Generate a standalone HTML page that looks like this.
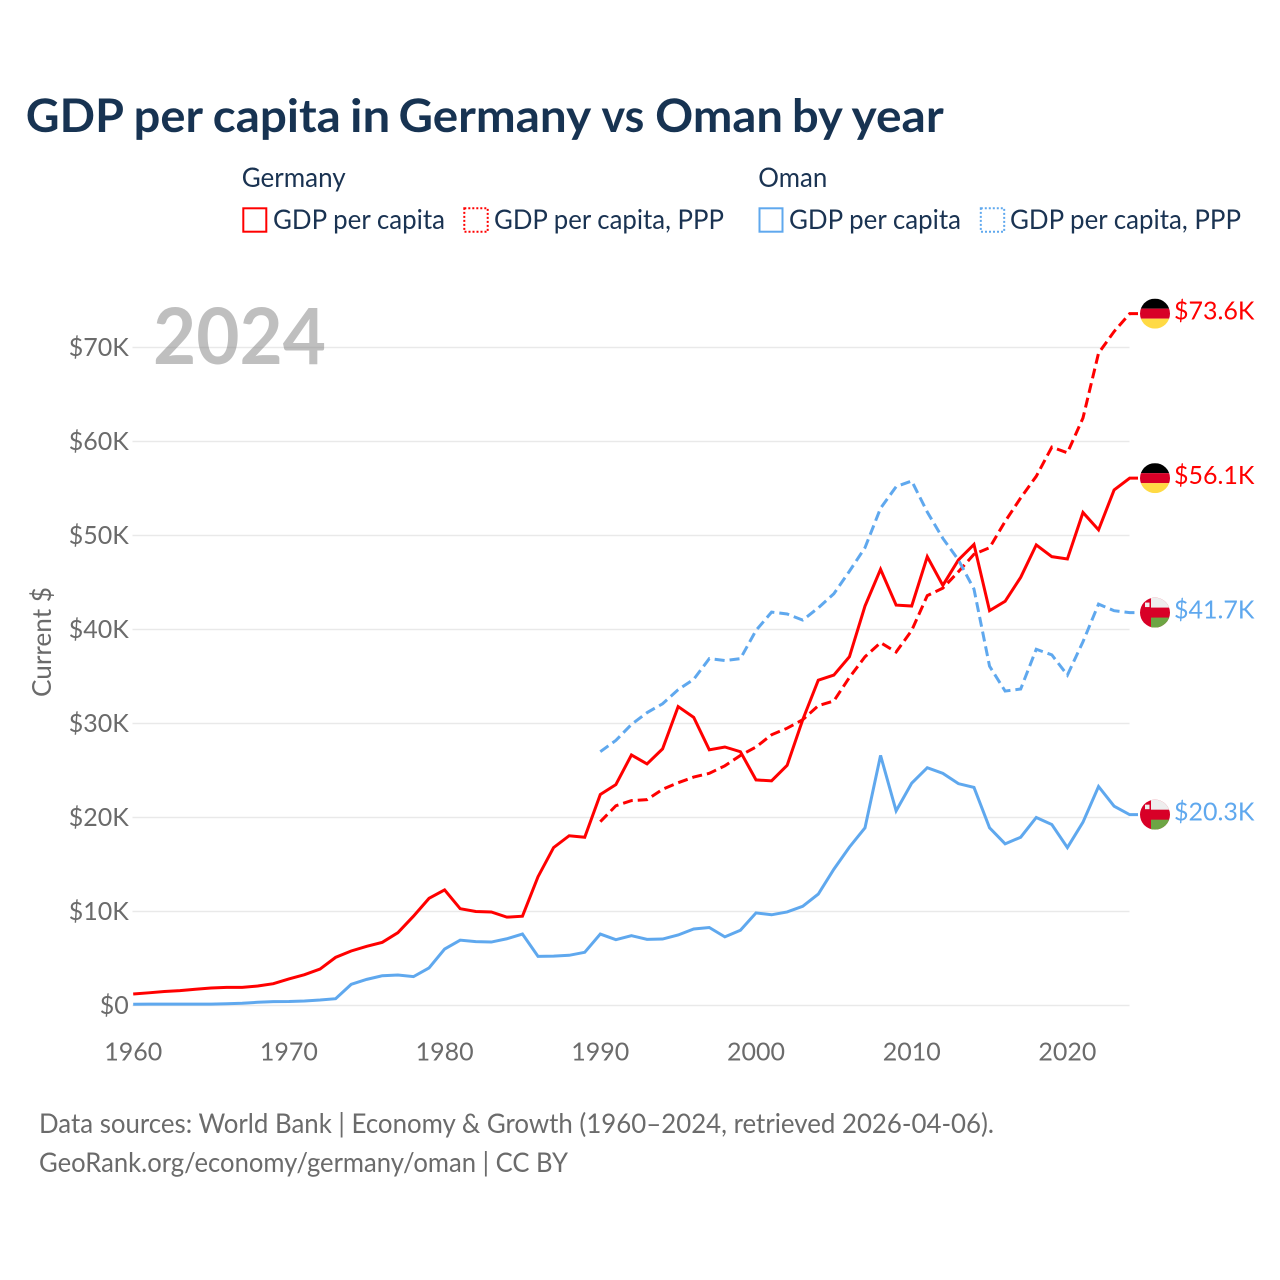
<!DOCTYPE html>
<html lang="en">
<head>
<meta charset="utf-8">
<title>GDP per capita in Germany vs Oman by year</title>
<style>
html,body{margin:0;padding:0;background:#fff;}
svg{display:block;font-family:"Lato","Carlito","Liberation Sans",sans-serif;}
</style>
</head>
<body>
<svg id="chart" xmlns="http://www.w3.org/2000/svg" width="1280" height="1280" viewBox="0 0 1280 1280">
  <rect x="0" y="0" width="1280" height="1280" fill="#ffffff"/>
  <text y="132" font-size="46" font-weight="700" fill="#173352" lengthAdjust="spacingAndGlyphs"><tspan x="25.8" textLength="96.9" lengthAdjust="spacingAndGlyphs">GDP</tspan> <tspan x="133.7" textLength="68.3" lengthAdjust="spacingAndGlyphs">per</tspan> <tspan x="212.8" textLength="128" lengthAdjust="spacingAndGlyphs">capita</tspan> <tspan x="350" textLength="40.3" lengthAdjust="spacingAndGlyphs">in</tspan> <tspan x="398.5" textLength="191.5" lengthAdjust="spacingAndGlyphs">Germany</tspan> <tspan x="601.5" textLength="42.8" lengthAdjust="spacingAndGlyphs">vs</tspan> <tspan x="655.2" textLength="127.8" lengthAdjust="spacingAndGlyphs">Oman</tspan> <tspan x="792" textLength="49.7" lengthAdjust="spacingAndGlyphs">by</tspan> <tspan x="851.5" textLength="92.2" lengthAdjust="spacingAndGlyphs">year</tspan></text>

  <g font-size="27" fill="#1a3352">
    <text x="241.7" y="187" textLength="104" lengthAdjust="spacingAndGlyphs">Germany</text>
    <rect x="243.3" y="208.3" width="23" height="23.4" fill="none" stroke="#ff0000" stroke-width="2"/>
    <text x="273" y="229" textLength="172" lengthAdjust="spacingAndGlyphs">GDP per capita</text>
    <rect x="464.3" y="208.3" width="23.4" height="23.4" fill="none" stroke="#ff0000" stroke-width="2" stroke-dasharray="2 2"/>
    <text x="494" y="229" textLength="230" lengthAdjust="spacingAndGlyphs">GDP per capita, PPP</text>

    <text x="758.3" y="187" textLength="69" lengthAdjust="spacingAndGlyphs">Oman</text>
    <rect x="759.5" y="208.3" width="23" height="23.4" fill="none" stroke="#5fa8ee" stroke-width="2"/>
    <text x="789" y="229" textLength="172" lengthAdjust="spacingAndGlyphs">GDP per capita</text>
    <rect x="980.8" y="208.3" width="23.4" height="23.4" fill="none" stroke="#5fa8ee" stroke-width="2" stroke-dasharray="2 2"/>
    <text x="1010" y="229" textLength="231" lengthAdjust="spacingAndGlyphs">GDP per capita, PPP</text>
  </g>

  <g id="grid"></g>
  <text x="153" y="364" font-size="78" font-weight="700" fill="#808080" fill-opacity="0.5" textLength="173" lengthAdjust="spacingAndGlyphs">2024</text>
  <g id="yAxis"></g>
  <g id="xAxis"></g>
  <text transform="translate(51,642) rotate(-90)" text-anchor="middle" font-size="26" fill="#6b6b6b" textLength="110" lengthAdjust="spacingAndGlyphs">Current $</text>
  <g id="series"></g>
  <g id="endpoints"></g>

  <g font-size="27" fill="#6b6b6b">
    <text x="39" y="1133" textLength="955" lengthAdjust="spacingAndGlyphs">Data sources: World Bank | Economy &amp; Growth (1960–2024, retrieved 2026-04-06).</text>
    <text x="39" y="1172" textLength="529" lengthAdjust="spacingAndGlyphs">GeoRank.org/economy/germany/oman | CC BY</text>
  </g>
</svg>

<script>
const xTickYears = [1960, 1970, 1980, 1990, 2000, 2010, 2020];
const yTickValues = [0, 10, 20, 30, 40, 50, 60, 70];
const yTickLabels = ["$0", "$10K", "$20K", "$30K", "$40K", "$50K", "$60K", "$70K"];

const germanyGdpStartYear = 1960;
const germanyGdp = [1.22, 1.35, 1.49, 1.58, 1.73, 1.86, 1.93, 1.93, 2.07, 2.32,
  2.82, 3.28, 3.88, 5.12, 5.8, 6.3, 6.72, 7.75, 9.5, 11.4,
  12.3, 10.3, 10.0, 9.95, 9.4, 9.5, 13.7, 16.8, 18.06, 17.9,
  22.45, 23.5, 26.65, 25.7, 27.3, 31.8, 30.65, 27.2, 27.5, 27.0,
  24.0, 23.9, 25.55, 30.4, 34.6, 35.15, 37.1, 42.5, 46.4, 42.6,
  42.5, 47.75, 44.7, 47.4, 49.05, 42.0, 43.0, 45.55, 49.0, 47.75,
  47.5, 52.45, 50.6, 54.85, 56.1];

const germanyPppStartYear = 1990;
const germanyPpp = [19.55, 21.25, 21.8, 21.9, 23.0, 23.7, 24.3, 24.7, 25.5, 26.6,
  27.5, 28.8, 29.5, 30.4, 31.9, 32.4, 34.9, 37.1, 38.6, 37.6,
  39.9, 43.6, 44.4, 46.15, 48.0, 48.7, 51.5, 54.0, 56.3, 59.4,
  58.8, 62.5, 69.4, 71.7, 73.6];

const omanGdpStartYear = 1960;
const omanGdp = [0.13, 0.14, 0.15, 0.15, 0.15, 0.15, 0.18, 0.24, 0.34, 0.41,
  0.42, 0.48, 0.58, 0.72, 2.25, 2.78, 3.17, 3.24, 3.07, 4.0,
  6.0, 6.95, 6.8, 6.75, 7.1, 7.6, 5.23, 5.25, 5.34, 5.66,
  7.6, 7.0, 7.43, 7.04, 7.07, 7.5, 8.14, 8.3, 7.3, 8.0,
  9.85, 9.65, 9.95, 10.55, 11.85, 14.5, 16.85, 18.9, 26.6, 20.7,
  23.65, 25.3, 24.7, 23.6, 23.2, 18.9, 17.2, 17.9, 20.0, 19.25,
  16.8, 19.5, 23.3, 21.2, 20.3];

const omanPppStartYear = 1990;
const omanPpp = [27.0, 28.2, 29.9, 31.15, 32.1, 33.6, 34.7, 36.9, 36.7, 36.9,
  39.9, 41.85, 41.65, 41.0, 42.3, 43.8, 46.2, 48.7, 52.9, 55.2,
  55.8, 52.5, 49.7, 47.4, 44.3, 36.1, 33.45, 33.67, 37.9, 37.3,
  35.15, 38.7, 42.7, 42.0, 41.8];

const endLabels = ["$73.6K", "$56.1K", "$41.7K", "$20.3K"];

const SVG_NS = "http://www.w3.org/2000/svg";
const RED = "#ff0000";
const BLUE = "#5fa8ee";
const PLOT_LEFT = 132.5;
const PLOT_RIGHT = 1129.5;
const FLAG_X = 1155;
const FLAG_R = 15;
const STUB_END = 1138;

function xScale(year) {
  return 133.2 + (year - 1960) * 15.57;
}
function yScale(value) {
  return 1005.5 - value * 9.4;
}
function make(tag, attrs, parent) {
  const el = document.createElementNS(SVG_NS, tag);
  Object.keys(attrs).forEach(function (k) { el.setAttribute(k, attrs[k]); });
  parent.appendChild(el);
  return el;
}

const gridGroup = document.getElementById("grid");
const yAxisGroup = document.getElementById("yAxis");
const xAxisGroup = document.getElementById("xAxis");
const seriesGroup = document.getElementById("series");
const endpointGroup = document.getElementById("endpoints");

yTickValues.forEach(function (v, i) {
  const line = make("line", {x1: PLOT_LEFT, x2: PLOT_RIGHT, y1: yScale(v), y2: yScale(v), stroke: "#e9e9e9", "stroke-width": 1.5}, gridGroup);
  
  
  const label = make("text", {x: 128.8, y: yScale(v) + 8.5, "text-anchor": "end", "font-size": 25, fill: "#6b6b6b"}, yAxisGroup);
  
  
  label.textContent = yTickLabels[i];
});

xTickYears.forEach(function (yr) {
  const label = make("text", {x: xScale(yr), y: 1060.3, "text-anchor": "middle", "font-size": 25, fill: "#6b6b6b"}, xAxisGroup);
  
  
  label.textContent = yr;
});

function linePath(values, startYear) {
  let d = "";
  values.forEach(function (v, i) {
    d += (i ? "L" : "M") + xScale(startYear + i).toFixed(2) + " " + yScale(v).toFixed(2);
  });
  d += "L" + STUB_END + " " + yScale(values[values.length - 1]).toFixed(2);
  return d;
}

function drawFlagGermany(g, cy, id) {
  const clip = make("clipPath", {id: id}, g);
  make("circle", {cx: FLAG_X, cy: cy, r: FLAG_R}, clip);
  const f = make("g", {"clip-path": "url(#" + id + ")"}, g);
  make("rect", {x: FLAG_X - FLAG_R, y: cy - FLAG_R, width: 30, height: 10, fill: "#000000"}, f);
  make("rect", {x: FLAG_X - FLAG_R, y: cy - 5, width: 30, height: 10, fill: "#d80027"}, f);
  make("rect", {x: FLAG_X - FLAG_R, y: cy + 5, width: 30, height: 10, fill: "#ffda44"}, f);
}
function drawFlagOman(g, cy, id) {
  const clip = make("clipPath", {id: id}, g);
  make("circle", {cx: FLAG_X, cy: cy, r: FLAG_R}, clip);
  const f = make("g", {"clip-path": "url(#" + id + ")"}, g);
  make("rect", {x: FLAG_X - FLAG_R, y: cy - FLAG_R, width: 30, height: 30, fill: "#d80027"}, f);
  make("rect", {x: FLAG_X - 4, y: cy - FLAG_R, width: 19, height: 10, fill: "#eeeeee"}, f);
  make("rect", {x: FLAG_X - 4, y: cy + 5, width: 19, height: 10, fill: "#6da544"}, f);
  make("rect", {x: FLAG_X - 10, y: cy - 10, width: 4.5, height: 4.5, fill: "#eeeeee"}, f);
}

const seriesList = [
  {key: "germany-ppp", values: germanyPpp, start: germanyPppStartYear, color: RED, dash: "10 5", flag: drawFlagGermany, label: endLabels[0]},
  {key: "germany-gdp", values: germanyGdp, start: germanyGdpStartYear, color: RED, dash: "", flag: drawFlagGermany, label: endLabels[1]},
  {key: "oman-ppp", values: omanPpp, start: omanPppStartYear, color: BLUE, dash: "10 5", flag: drawFlagOman, label: endLabels[2]},
  {key: "oman-gdp", values: omanGdp, start: omanGdpStartYear, color: BLUE, dash: "", flag: drawFlagOman, label: endLabels[3]}
];

seriesList.forEach(function (s, idx) {
  const path = make("path", {d: linePath(s.values, s.start), fill: "none", stroke: s.color, "stroke-width": 3, "stroke-linejoin": "miter"}, seriesGroup);
  if (s.dash) path.setAttribute("stroke-dasharray", s.dash);
  
  

  const endY = yScale(s.values[s.values.length - 1]);
  const flag = make("g", {}, endpointGroup);
  
  
  s.flag(flag, endY, "flag-clip-" + idx);

  const label = make("text", {x: 1174, y: endY + 5.7, "font-size": 25, fill: s.color}, endpointGroup);
  
  
  label.textContent = s.label;
});
</script>
</body>
</html>
